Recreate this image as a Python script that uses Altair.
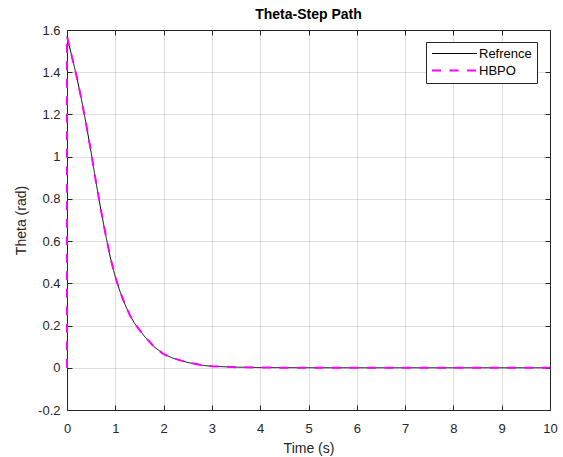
import altair as alt
import pandas as pd

# ---- data ----
t_vals = [0, 0.1, 0.2, 0.3, 0.4, 0.5, 0.6, 0.7, 0.8, 0.9, 1.0, 1.1, 1.2, 1.3, 1.4,
          1.5, 1.6, 1.8, 2.0, 2.2, 2.5, 2.8, 3.0, 3.5, 4.0, 5.0, 6.0, 7.0, 8.0, 9.0, 10.0]
ref_vals = [1.57, 1.475, 1.38, 1.27, 1.15, 1.02, 0.88, 0.75, 0.63, 0.52, 0.43, 0.36, 0.30,
            0.25, 0.21, 0.18, 0.15, 0.10, 0.065, 0.045, 0.025, 0.012, 0.007, 0.003, 0.001,
            0.0003, 0.0, 0.0, 0.0, 0.0, 0.0]
hbpo_t = [0] + t_vals
hbpo_vals = [0.0] + ref_vals

series_names = ["Refrence", "HBPO"]
x_ticks = [0, 1, 2, 3, 4, 5, 6, 7, 8, 9, 10]
y_ticks = [-0.2, 0, 0.2, 0.4, 0.6, 0.8, 1, 1.2, 1.4, 1.6]

rows = []
for i, (t, v) in enumerate(zip(t_vals, ref_vals)):
    rows.append({"series": "Refrence", "t": t, "theta": v, "ord": i})
for i, (t, v) in enumerate(zip(hbpo_t, hbpo_vals)):
    rows.append({"series": "HBPO", "t": t, "theta": v, "ord": i})
df = pd.DataFrame(rows)

FONT = "Arial"
AX = "#262626"

xscale = alt.Scale(domain=[0, 10], nice=False, zero=False)
yscale = alt.Scale(domain=[-0.2, 1.6], nice=False, zero=False)

leg = alt.Legend(
    title=None, orient="none", legendX=359, legendY=12,
    symbolType="stroke", symbolSize=2025, clipHeight=13,
    labelFont=FONT, labelFontSize=13, labelOffset=1,
    labelColor="#000000", strokeColor=AX, fillColor="white", padding=5,
    rowPadding=3, labelLimit=200,
)
color = alt.Color("series:N", scale=alt.Scale(domain=series_names, range=["#000000", "#ff00ff"]), legend=leg)
dash = alt.StrokeDash("series:N", scale=alt.Scale(domain=series_names, range=[[1, 0], [9, 8.5]]), legend=leg)
width = alt.StrokeWidth("series:N", scale=alt.Scale(domain=series_names, range=[1, 2]), legend=leg)

x_axis = alt.Axis(
    values=x_ticks, grid=True, gridColor=AX, gridOpacity=0.15, domain=False,
    tickSize=5, offset=-5, tickColor=AX, labelColor=AX, labelFont=FONT, labelFontSize=13,
    labelPadding=12, labelFlush=False, labelOverlap=False,
    title="Time (s)", titleFont=FONT, titleFontSize=14,
    titleFontWeight="normal", titleColor=AX, titlePadding=6,
)
y_axis = alt.Axis(
    values=y_ticks, grid=True, gridColor=AX, gridOpacity=0.15, domain=False,
    tickSize=5, offset=-5, tickColor=AX, labelColor=AX, labelFont=FONT, labelFontSize=13,
    labelPadding=7, labelFlush=False, labelOverlap=False,
    title="Theta (rad)", titleFont=FONT, titleFontSize=14,
    titleFontWeight="normal", titleColor=AX, titlePadding=9,
    labelExpr="datum.value < 0 ? '-' + format(-datum.value, '~g') : format(datum.value, '~g')",
)
x_top = alt.Axis(orient="top", values=x_ticks, grid=False, domain=False, labels=False,
                 tickSize=5, offset=-5, tickColor=AX, title=None)
y_right = alt.Axis(orient="right", values=y_ticks, grid=False, domain=False, labels=False,
                   tickSize=5, offset=-5, tickColor=AX, title=None)

base = alt.Chart(df)

ref_layer = base.transform_filter(alt.datum.series == "Refrence").mark_line().encode(
    x=alt.X("t:Q", scale=xscale, axis=x_axis),
    y=alt.Y("theta:Q", scale=yscale, axis=y_axis),
    color=color, strokeDash=dash, strokeWidth=width,
    order="ord:Q",
)
hbpo_layer = base.transform_filter(alt.datum.series == "HBPO").mark_line().encode(
    x=alt.X("t:Q", scale=xscale, axis=None),
    y=alt.Y("theta:Q", scale=yscale, axis=None),
    color=color, strokeDash=dash, strokeWidth=width,
    order="ord:Q",
)
tick_layer = base.mark_point(opacity=0).encode(
    x=alt.X("t:Q", scale=xscale, axis=x_top),
    y=alt.Y("theta:Q", scale=yscale, axis=y_right),
)

chart = alt.layer(ref_layer, hbpo_layer, tick_layer).resolve_axis(
    x="independent", y="independent"
).properties(
    width=483, height=380,
    autosize=alt.AutoSizeParams(type="none"),
    padding={"left": 67, "top": 30, "right": 13, "bottom": 47},
    title=alt.TitleParams("Theta-Step Path", font=FONT, fontSize=14, fontWeight="bold",
                          color="#000000", anchor="middle", offset=2),
    background="white",
).configure_view(stroke=AX, strokeWidth=1)

chart.save("out.html", embed_options={"renderer": "svg", "actions": False})
